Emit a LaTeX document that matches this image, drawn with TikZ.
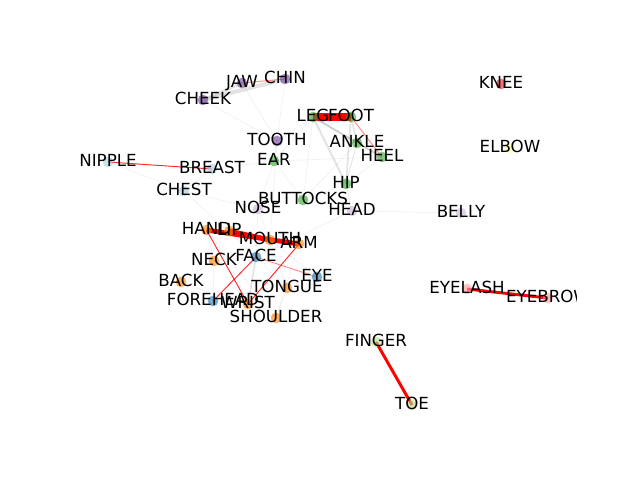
\documentclass[tikz,border=0pt]{standalone}
\usepackage{fontspec}
\setmainfont{DejaVu Sans}
\pgfdeclarelayer{bg}
\pgfsetlayers{bg,main}
\definecolor{cpurple}{HTML}{6A3D9A}
\definecolor{cgreen}{HTML}{33A02C}
\definecolor{clblue}{HTML}{A6CEE3}
\definecolor{clpurple}{HTML}{CAB2D6}
\definecolor{corange}{HTML}{FF7F00}
\definecolor{cblue}{HTML}{1F78B4}
\definecolor{cred}{HTML}{E31A1C}
\definecolor{cpink}{HTML}{FB9A99}
\definecolor{cyellow}{HTML}{FFFF99}
\definecolor{clgreen}{HTML}{B2DF8A}
\tikzset{
  vtx/.style={circle, inner sep=0pt, minimum size=8pt, draw=none, fill opacity=0.6},
  lbl/.style={font=\fontsize{12.5}{15}\selectfont, inner sep=0pt, text height=9.5pt, text depth=2.6pt, anchor=center},
  redE/.style={draw=red, line cap=butt},
  pinkE/.style={draw=red, draw opacity=0.45, line width=0.7pt},
  thinR/.style={draw=red, draw opacity=0.85, line width=0.7pt},
  grayE/.style={draw=gray, draw opacity=0.22},
  faintE/.style={draw=gray, draw opacity=0.12, line width=0.5pt}
}
\begin{document}
\begin{tikzpicture}[x=0.75pt, y={(0pt,-0.75pt)}]
\useasboundingbox (0,0) rectangle (640,480);
\begin{scope}
\clip (80,57.6) rectangle (576,427.2);
% vertices
\foreach \n/\x/\y/\c in {
  knee/501/84/cred, elbow/510/148/cyellow, belly/461/213/clpurple,
  eyelash/467/289/cpink, eyebrow/548/298/cpink,
  finger/376/342/clgreen, toe/412/405/clgreen,
  leg/313/117/cgreen, foot/351/117/cgreen, ankle/357/143/cgreen, heel/382/157/cgreen,
  tooth/277/141/cpurple, ear/274/161/cgreen, jaw/242/83/cpurple, chin/285/79/cpurple, cheek/203/100/cpurple,
  breast/212/169/clblue, chest/184/191/clblue, nipple/108/162/clblue,
  hip/346/184/cgreen, buttocks/303/200/cgreen, nose/258/209/clpurple, head/352/211/clpurple,
  hand/206.5/230/corange, lip/229.3/231/corange, mouth/270/240/corange, arm/299/244/corange,
  neck/214/261/corange, face/256/257/cblue, eye/317/277/cblue, back/181/282/corange,
  tongue/287/288/corange, forehead/213/301/cblue, wrist/248/304/corange, shoulder/276/318/corange}
  { \node[vtx, fill=\c] (\n) at (\x,\y) {}; }
% labels
\foreach \n/\t in {
  knee/KNEE, elbow/ELBOW, belly/BELLY, eyelash/EYELASH, eyebrow/EYEBROW,
  finger/FINGER, toe/TOE, leg/LEG, foot/FOOT, ankle/ANKLE, heel/HEEL,
  tooth/TOOTH, ear/EAR, jaw/JAW, chin/CHIN, cheek/CHEEK,
  breast/BREAST, chest/CHEST, nipple/NIPPLE, hip/HIP, buttocks/BUTTOCKS, nose/NOSE, head/HEAD,
  hand/HAND, lip/LIP, mouth/MOUTH, arm/ARM, neck/NECK, face/FACE, eye/EYE, back/BACK,
  tongue/TONGUE, forehead/FOREHEAD, wrist/WRIST, shoulder/SHOULDER}
  { \node[lbl] (\n-l) at (\n.center) {\t}; }
\end{scope}
\begin{pgfonlayer}{bg}
% faint edges
\draw[faintE] (cheek.center) -- (tooth.center);
\draw[faintE] (chin.center) -- (tooth.center);
\draw[faintE] (jaw.center) -- (tooth.center);
\draw[faintE] (tooth.center) -- (leg.center);
\draw[faintE] (ear.center) -- (leg.center);
\draw[faintE] (ear.center) -- (heel.center);
\draw[faintE] (ear.center) -- (buttocks.center);
\draw[faintE] (buttocks.center) -- (hip.center);
\draw[faintE] (buttocks.center) -- (leg.center);
\draw[faintE] (breast.center) -- (ear.center);
\draw[faintE] (chest.center) -- (breast.center);
\draw[faintE] (nipple.center) -- (chest.center);
\draw[faintE] (chest.center) -- (nose.center);
\draw[faintE] (chest.center) -- (face.center);
\draw[faintE] (head.center) -- (belly.center);
\draw[faintE] (head.center) -- (hip.center);
\draw[faintE] (nose.center) -- (face.center);
\draw[faintE] (nose.center) -- (mouth.center);
\draw[faintE] (ear.center) -- (nose.center);
\draw[faintE] (face.center) -- (tongue.center);
\draw[faintE] (mouth.center) -- (tongue.center);
\draw[faintE] (neck.center) -- (face.center);
\draw[faintE] (neck.center) -- (mouth.center);
\draw[faintE] (back.center) -- (neck.center);
\draw[faintE] (back.center) -- (shoulder.center);
\draw[faintE] (wrist.center) -- (shoulder.center);
\draw[faintE] (tongue.center) -- (shoulder.center);
\draw[faintE] (forehead.center) -- (neck.center);
\draw[faintE] (forehead.center) -- (eye.center);
\draw[faintE] (eye.center) -- (mouth.center);
\draw[faintE] (arm.center) -- (shoulder.center);
\draw[faintE] (hand.center) -- (neck.center);
\draw[faintE] (hand.center) -- (shoulder.center);
\draw[faintE] (face.center) -- (head.center);
\draw[faintE] (tooth.center) -- (mouth.center);
\draw[faintE] (heel.center) -- (hip.center);
\draw[faintE] (ankle.center) -- (buttocks.center);
\draw[faintE] (tooth.center) -- (ear.center);
% gray edges
\draw[grayE, line width=3pt] (cheek.center) -- (chin.center);
\draw[grayE, line width=2pt] (cheek.center) -- (jaw.center);
\draw[grayE, line width=1.5pt] (leg.center) -- (hip.center);
\draw[grayE, line width=1.2pt] (foot.center) -- (hip.center);
\draw[grayE, line width=1.2pt] (leg.center) -- (ankle.center);
\draw[grayE, line width=1.2pt] (foot.center) -- (ankle.center);
\draw[grayE, line width=1.5pt] (leg.center) -- (heel.center);
\draw[grayE, line width=1pt] (ankle.center) -- (heel.center);
\draw[grayE, line width=0.6pt] (hip.center) -- (ankle.center);
\draw[grayE, line width=1.2pt] (face.center) -- (wrist.center);
% red edges
\draw[redE, line width=6.5pt] (leg.center) -- (foot.center);
\draw[redE, line width=3.6pt] (hand.center) -- (arm.center);
\draw[redE, line width=3.6pt] (lip.center) -- (mouth.center);
\draw[redE, line width=2.2pt] (finger.center) -- (toe.center);
\draw[redE, line width=2.2pt] (eyelash.center) -- (eyebrow.center);
\draw[thinR] (nipple.center) -- (breast.center);
\draw[thinR] (hand.center) -- (wrist.center);
\draw[thinR] (forehead.center) -- (face.center);
\draw[thinR] (arm.center) -- (wrist.center);
\draw[pinkE] (face.center) -- (eye.center);
\draw[pinkE] (jaw.center) -- (chin.center);
\draw[pinkE] (foot.center) -- (heel.center);
\end{pgfonlayer}
\end{tikzpicture}
\end{document}
